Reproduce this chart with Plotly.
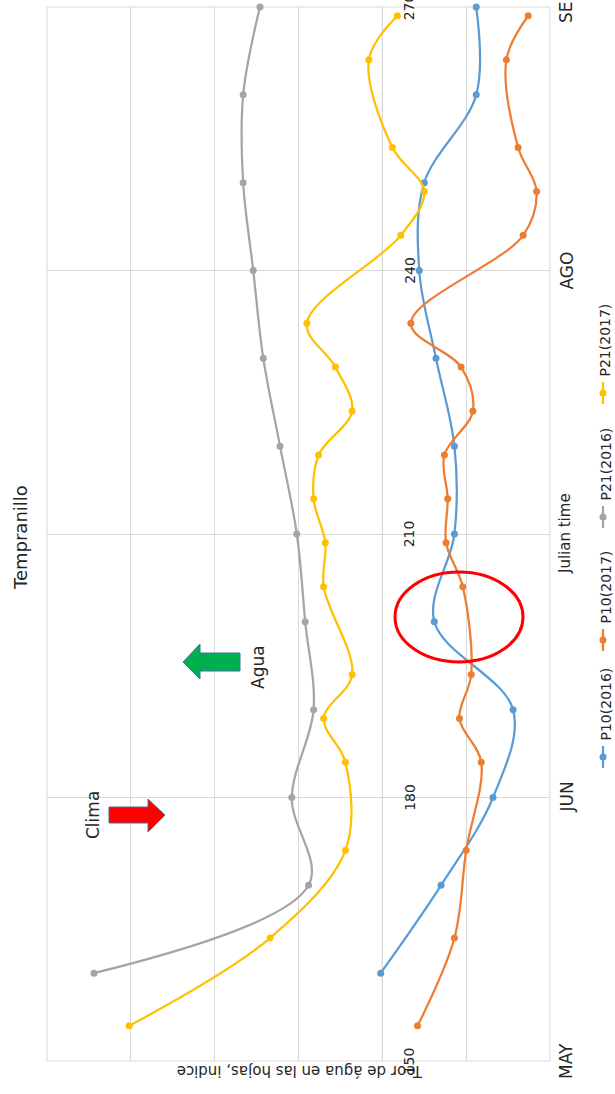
import plotly.graph_objects as go

# ---- data -------------------------------------------------------------
days_2016 = [160, 170, 180, 190, 200, 210, 220, 230, 240, 250, 260, 270]
days_2017 = [154, 164, 174, 184, 189, 194, 204, 209, 214, 219, 224, 229,
             234, 244, 249, 254, 264, 269]

p10_2016 = [70.1, 66.5, 63.4, 62.2, 66.9, 65.7, 65.7, 66.8, 67.8, 67.5, 64.4, 64.4]
p10_2017 = [67.9, 65.7, 65.0, 64.1, 65.4, 64.7, 65.2, 66.2, 66.1, 66.3, 64.6, 65.3,
            68.3, 61.6, 60.8, 61.9, 62.6, 61.3]
p21_2016 = [87.2, 74.4, 75.4, 74.1, 74.6, 75.1, 76.1, 77.1, 77.7, 78.3, 78.3, 77.3]
p21_2017 = [85.1, 76.7, 72.2, 72.2, 73.5, 71.8, 73.5, 73.4, 74.1, 73.8, 71.8, 72.8,
            74.5, 68.9, 67.5, 69.4, 70.8, 69.1]

series_names = ["P10(2016)", "P10(2017)", "P21(2016)", "P21(2017)"]
series_days = [days_2016, days_2017, days_2016, days_2017]
series_vals = [p10_2016, p10_2017, p21_2016, p21_2017]
series_colors = ["#5b9bd5", "#ed7d31", "#a5a5a5", "#ffc000"]

day_ticks = [150, 180, 210, 240, 270]
month_ticks = [150, 180, 240, 270]
month_labels = ["MAY", "JUN", "AGO", "SEP"]
axis_cross = 70  # value where the day axis crosses

# ---- layout helpers (page pixels -> paper fractions) ------------------
W, H = 615, 1094
L, R, T, B = 47, 550, 7, 1061


def fx(px):
    return (px - L) / (R - L)


def fy(py):
    return (B - py) / (B - T)


FONT = "DejaVu Sans"
TXT = "#262626"

fig = go.Figure()

for name, d, v, c in zip(series_names, series_days, series_vals, series_colors):
    fig.add_trace(go.Scatter(
        x=v, y=d, name=name, mode="lines+markers",
        line=dict(color=c, width=2.25, shape="spline", smoothing=1),
        marker=dict(color=c, size=7),
        cliponaxis=False,
    ))

shapes = []
annotations = []

# plot-area frame
shapes.append(dict(type="rect", xref="paper", yref="paper", x0=0, x1=1, y0=0, y1=1,
                   line=dict(color="#d9d9d9", width=1), layer="below"))

# red arrow (Clima), pointing right
red = [(109, 807), (148, 807), (148, 799), (165, 815), (148, 832), (148, 823), (109, 823)]
shapes.append(dict(type="path", xref="paper", yref="paper",
                   path="M " + " L ".join(f"{fx(a)},{fy(b)}" for a, b in red) + " Z",
                   fillcolor="#ff0000", line=dict(color="#41719c", width=1)))

# green arrow (Agua), pointing left
green = [(240, 653), (200, 653), (200, 644), (183, 662), (200, 679), (200, 671), (240, 671)]
shapes.append(dict(type="path", xref="paper", yref="paper",
                   path="M " + " L ".join(f"{fx(a)},{fy(b)}" for a, b in green) + " Z",
                   fillcolor="#00b050", line=dict(color="#41719c", width=1)))

# red ellipse
shapes.append(dict(type="circle", xref="paper", yref="paper",
                   x0=fx(395), x1=fx(523), y0=fy(662), y1=fy(572),
                   line=dict(color="#ff0000", width=3)))


def label(text, px, py, size, angle=-90, xanchor="center", yanchor="middle"):
    annotations.append(dict(text=text, xref="paper", yref="paper", x=fx(px), y=fy(py),
                            xanchor=xanchor, yanchor=yanchor,
                            showarrow=False, textangle=angle,
                            font=dict(family=FONT, size=size, color=TXT)))


label("Tempranillo", 20, 538, 18)
label("Julian time", 565, 534, 15)
label("Teor de água en las hojas, indice", 300, 1071, 15, angle=180)
label("Clima", 93, 815, 17)
label("Agua", 258, 667, 17)

# day labels next to the crossing axis line
for d in day_ticks:
    annotations.append(dict(text=str(d), xref="x", yref="y", x=axis_cross, y=d,
                            xanchor="left", yanchor="middle", xshift=17,
                            showarrow=False, textangle=-90,
                            font=dict(family=FONT, size=14, color=TXT)))

# month labels beside the plot
for m, d in zip(month_labels, month_ticks):
    annotations.append(dict(text=m, xref="paper", yref="y", x=fx(566), y=d,
                            xanchor="center", yanchor="middle",
                            showarrow=False, textangle=-90,
                            font=dict(family=FONT, size=17, color=TXT)))

# legend, laid out along the right edge
legend_marker_y = [757, 640, 517, 393]
for name, c, my in zip(series_names, series_colors, legend_marker_y):
    shapes.append(dict(type="line", xref="paper", yref="paper",
                       x0=fx(603), x1=fx(603), y0=fy(my - 11), y1=fy(my + 11),
                       line=dict(color=c, width=2.25)))
    shapes.append(dict(type="circle", xref="paper", yref="paper",
                       x0=fx(599.5), x1=fx(606.5), y0=fy(my + 3.5), y1=fy(my - 3.5),
                       fillcolor=c, line=dict(color=c, width=0)))
    label(name, 605, my - 14, 14, yanchor="bottom")

# day axis line where it crosses the value axis
shapes.append(dict(type="line", xref="x", yref="paper", x0=axis_cross, x1=axis_cross,
                   y0=0, y1=1, line=dict(color="#bfbfbf", width=1), layer="below"))

fig.update_layout(
    width=W, height=H,
    margin=dict(l=L, r=W - R, t=T, b=H - B, pad=0),
    paper_bgcolor="white", plot_bgcolor="white",
    showlegend=False,
    font=dict(family=FONT, color=TXT),
    xaxis=dict(range=[90, 60], tick0=60, dtick=5, showticklabels=False,
               showgrid=True, gridcolor="#d9d9d9", gridwidth=1,
               zeroline=False, showline=False, ticks=""),
    yaxis=dict(range=[150, 270], tickvals=day_ticks, showticklabels=False,
               showgrid=True, gridcolor="#d9d9d9", gridwidth=1,
               zeroline=False, showline=False, ticks=""),
    shapes=shapes,
    annotations=annotations,
)

fig.write_html("out.html")
